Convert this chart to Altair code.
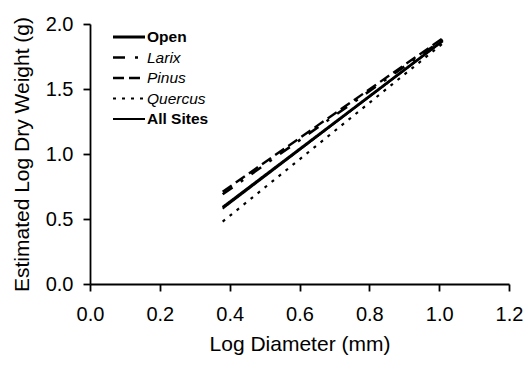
import altair as alt
import pandas as pd

series = ["Open", "Larix", "Pinus", "Quercus", "All Sites"]
x_start = [0.38, 0.38, 0.38, 0.38, 0.38]
x_end = [1.01, 1.01, 1.01, 1.01, 1.01]
y_start = [0.59, 0.69, 0.71, 0.48, 0.58]
y_end = [1.87, 1.88, 1.89, 1.85, 1.87]
dashes = [[1, 0], [12, 10, 3, 10], [11, 5], [3, 6], [1, 0]]
widths = [2.8, 2.0, 2.0, 1.6, 2.8]
italic = [False, True, True, True, False]

x_ticks = [0.0, 0.2, 0.4, 0.6, 0.8, 1.0, 1.2]
y_ticks = [0.0, 0.5, 1.0, 1.5, 2.0]

rows = []
for s, xs, xe, ys, ye in zip(series, x_start, x_end, y_start, y_end):
    rows.append({"series": s, "x": xs, "y": ys})
    rows.append({"series": s, "x": xe, "y": ye})
lines_df = pd.DataFrame(rows)
legend_df = pd.DataFrame({"series": series, "italic": italic})

FONT = "Liberation Sans"
dash_scale = alt.Scale(domain=series, range=dashes)
width_scale = alt.Scale(domain=series, range=widths)

lines = alt.Chart(lines_df).mark_line(color="black", clip=True).encode(
    x=alt.X("x:Q", scale=alt.Scale(domain=[0, 1.2], nice=False),
            axis=alt.Axis(values=x_ticks, format=".1f", title="Log Diameter (mm)")),
    y=alt.Y("y:Q", scale=alt.Scale(domain=[0, 2.0], nice=False),
            axis=alt.Axis(values=y_ticks, format=".1f", title="Estimated Log Dry Weight (g)")),
    detail="series:N",
    strokeDash=alt.StrokeDash("series:N", scale=dash_scale, legend=None),
    strokeWidth=alt.StrokeWidth("series:N", scale=width_scale, legend=None),
)

leg_y = alt.Y("series:N", scale=alt.Scale(type="point", domain=series, range=[13, 95], padding=0), axis=None)

leg_rules = alt.Chart(legend_df).mark_rule(color="black").encode(
    x=alt.value(23), x2=alt.value(55),
    y=leg_y,
    strokeDash=alt.StrokeDash("series:N", scale=dash_scale, legend=None),
    strokeWidth=alt.StrokeWidth("series:N", scale=width_scale, legend=None),
)

leg_bold = alt.Chart(legend_df).transform_filter("!datum.italic").mark_text(
    align="left", baseline="middle", font=FONT, fontSize=15.5, fontWeight="bold", color="black", dx=2
).encode(x=alt.value(55), y=leg_y, text="series:N")

leg_ital = alt.Chart(legend_df).transform_filter("datum.italic").mark_text(
    align="left", baseline="middle", font=FONT, fontSize=15.5, fontStyle="italic", color="black", dx=2
).encode(x=alt.value(55), y=leg_y, text="series:N")

chart = alt.layer(lines, leg_rules, leg_bold, leg_ital).resolve_scale(
    y="independent", strokeDash="shared", strokeWidth="shared"
).properties(
    width=419, height=260,
    padding={"left": 90, "top": 24, "right": 17, "bottom": 82},
    autosize=alt.AutoSizeParams(type="none"),
    background="white",
).configure_view(stroke=None).configure_axis(
    domainColor="black", domainWidth=1.8, tickColor="black", tickWidth=1.8, tickSize=7,
    grid=False, labelFont=FONT, labelFontSize=20, labelColor="black",
    labelFlush=False, labelOverlap=False,
    titleFont=FONT, titleFontSize=21, titleFontWeight="normal", titleColor="black",
).configure_axisX(titlePadding=9, labelPadding=13).configure_axisY(titlePadding=13, labelPadding=10)

chart.save("out.html", embed_options={"renderer": "svg", "actions": False})
